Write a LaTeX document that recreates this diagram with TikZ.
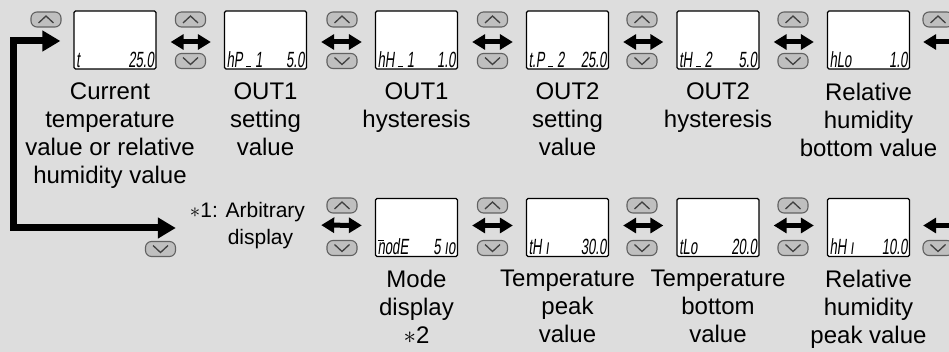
\documentclass[tikz,border=0pt]{standalone}
\usepackage{fontspec}
\setmainfont{Liberation Sans}
\newfontfamily\lcdfont[FakeSlant=0.12,FakeStretch=0.6]{Liberation Sans}
\usetikzlibrary{arrows.meta,calc}
\newcommand\lcdbar{\rule{5pt}{1.2pt}}
\newcommand\lcdm{\makebox[0pt][l]{\raisebox{13.5pt}{\rule{6.5pt}{1.2pt}}}n}
\begin{document}
\begin{tikzpicture}[x=1pt,y=-1pt,
  lcd/.style={draw=black,line width=1.3pt,fill=white,rounded corners=1.5pt,minimum width=82pt,minimum height=58pt,inner sep=0pt},
  lcdtxt/.style={font=\lcdfont\fontsize{22}{22}\selectfont,inner sep=0pt},
  lbl/.style={font=\fontsize{24}{28}\selectfont,align=center,anchor=north,inner sep=0pt},
  btn/.style={draw=black!62,fill=black!25,line width=1.1pt,rounded corners=6pt,minimum width=30pt,minimum height=15pt,inner sep=0pt},
  chev/.style={black!75,line width=1.3pt,sharp corners,line join=miter},
  btnup/.style={btn,path picture={\draw[chev] ([shift={(-7.5,3.5)}]path picture bounding box.center) -- ([shift={(0,-3.5)}]path picture bounding box.center) -- ([shift={(7.5,3.5)}]path picture bounding box.center);}},
  btndown/.style={btn,path picture={\draw[chev] ([shift={(-7.5,-3.5)}]path picture bounding box.center) -- ([shift={(0,3.5)}]path picture bounding box.center) -- ([shift={(7.5,-3.5)}]path picture bounding box.center);}},
  tipA/.tip={Triangle[width=15pt,length=13pt]},
  tipB/.tip={Triangle[width=20pt,length=18pt]},
  dbl/.style={line width=5pt,tipA-tipA,shorten <=14pt,shorten >=13pt},
  lft/.style={line width=5pt,-tipA,shorten >=13pt},
]
\useasboundingbox (0,0) rectangle (949,352);
\clip (0,0) rectangle (949,352);
\fill[black!13.5] (0,0) rectangle (949,352);

% top row displays
\node[lcd] (d1) at (115,40) {};
\node[lcd] (d2) at (265.5,40) {};
\node[lcd] (d3) at (416.5,40) {};
\node[lcd] (d4) at (567.5,40) {};
\node[lcd] (d5) at (718,40) {};
\node[lcd] (d6) at (868.5,40) {};
% bottom row displays
\node[lcd] (e3) at (416.5,227.5) {};
\node[lcd] (e4) at (567.5,227.5) {};
\node[lcd] (e5) at (718,227.5) {};
\node[lcd] (e6) at (868.5,227.5) {};

% LCD texts
\foreach \n/\l/\r in {d1/t/25.0, d2/{hP\,\lcdbar\,1}/5.0, d3/{hH\,\lcdbar\,1}/1.0, d4/{t.P\,\lcdbar\,2}/25.0, d5/{tH\,\lcdbar\,2}/5.0, d6/hLo/1.0, e3/{\lcdm odE}/{5\,ıo}, e4/{tH\,ı}/30.0, e5/tLo/20.0, e6/{hH\,ı}/10.0}{
  \node[lcdtxt,anchor=base west] (\n l) at ([shift={(2.5,-2.5)}]\n.south west) {\l};
  \node[lcdtxt,anchor=base east] (\n r) at ([shift={(-2.5,-2.5)}]\n.south east) {\r};
}

% buttons top row
\node[btnup] (u0) at (46,19.5) {};
\node[btnup] (u1) at (190.5,19.5) {};
\node[btndown] (w1) at (190.5,61) {};
\node[btnup] (u2) at (342,19.5) {};
\node[btndown] (w2) at (342,61) {};
\node[btnup] (u3) at (492.5,19.5) {};
\node[btndown] (w3) at (492.5,61) {};
\node[btnup] (u4) at (642,19.5) {};
\node[btndown] (w4) at (642,61) {};
\node[btnup] (u5) at (793,19.5) {};
\node[btndown] (w5) at (793,61) {};
\node[btnup] (u6) at (938,19.5) {};
% buttons bottom row
\node[btndown] (bw0) at (160.5,249) {};
\node[btnup] (bu2) at (342,205.5) {};
\node[btndown] (bw2) at (342,248) {};
\node[btnup] (bu3) at (492.5,205.5) {};
\node[btndown] (bw3) at (492.5,248) {};
\node[btnup] (bu4) at (642,205.5) {};
\node[btndown] (bw4) at (642,248) {};
\node[btnup] (bu5) at (793,205.5) {};
\node[btndown] (bw5) at (793,248) {};
\node[btndown] (bw6) at (938,248) {};

% labels
\node[lbl] (t1) at (110,83) {Current\\temperature\\value or relative\\humidity value};
\node[lbl] (t2) at (265.5,83) {OUT1\\setting\\value};
\node[lbl] (t3) at (416.5,83) {OUT1\\hysteresis};
\node[lbl] (t4) at (567.5,83) {OUT2\\setting\\value};
\node[lbl] (t5) at (718,83) {OUT2\\hysteresis};
\node[lbl] (t6) at (868.5,83) {Relative\\humidity\\bottom value};
\node[lbl] (b3) at (416.5,270) {Mode\\display\\$\ast$2};
\node[lbl] (b4) at (567.5,270) {Temperature\\peak\\value};
\node[lbl] (b5) at (718,270) {Temperature\\bottom\\value};
\node[lbl] (b6) at (868.5,270) {Relative\\humidity\\peak value};
\node[font=\fontsize{21}{27}\selectfont,align=center,inner sep=0pt] (arb) at (247.5,226) {$\ast$1: Arbitrary\\\hspace*{26pt}display};

% connectors top row
\draw[dbl] ([yshift=-2pt]d1.east) -- ([yshift=-2pt]d2.west);
\draw[dbl] ([yshift=-2pt]d2.east) -- ([yshift=-2pt]d3.west);
\draw[dbl] ([yshift=-2pt]d3.east) -- ([yshift=-2pt]d4.west);
\draw[dbl] ([yshift=-2pt]d4.east) -- ([yshift=-2pt]d5.west);
\draw[dbl] ([yshift=-2pt]d5.east) -- ([yshift=-2pt]d6.west);
\coordinate (rt) at (975,42);
\draw[lft] (rt) -- ([yshift=-2pt]d6.east);
% connectors bottom row
\draw[dbl,shorten <=16pt] ([yshift=1pt]arb.east) -- ([yshift=2pt]e3.west);
\draw[dbl] ([yshift=2pt]e3.east) -- ([yshift=2pt]e4.west);
\draw[dbl] ([yshift=2pt]e4.east) -- ([yshift=2pt]e5.west);
\draw[dbl] ([yshift=2pt]e5.east) -- ([yshift=2pt]e6.west);
\coordinate (rb) at (975,225.5);
\draw[lft] (rb) -- ([yshift=2pt]e6.east);
% return arrow
\coordinate (lc) at (13.5,228);
\draw[line width=7pt,tipB-tipB,shorten <=13pt,shorten >=14pt] ([yshift=-1pt]d1.west) -| (lc) -- (lc -| arb.west);
\end{tikzpicture}
\end{document}
